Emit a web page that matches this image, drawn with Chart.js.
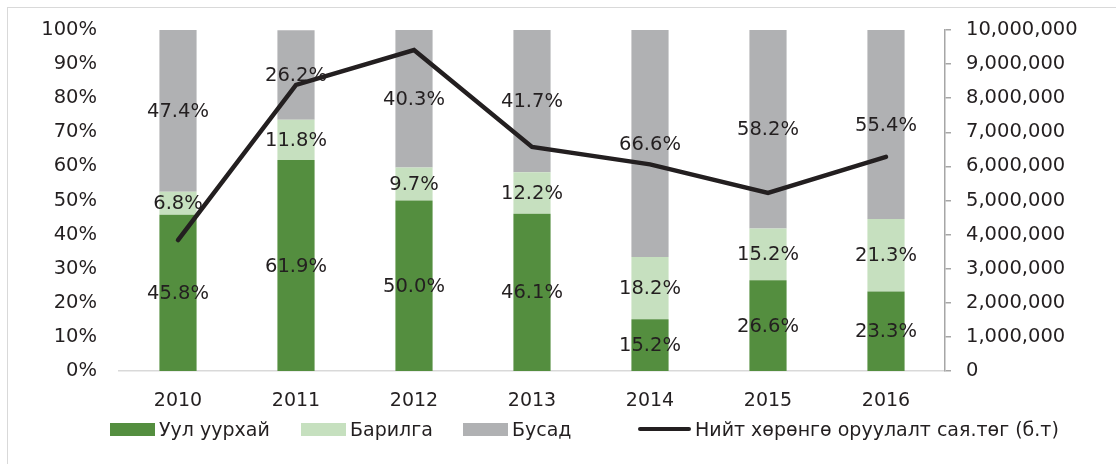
<!DOCTYPE html>
<html>
<head>
<meta charset="utf-8">
<script src="https://cdn.jsdelivr.net/npm/chart.js@4.4.1/dist/chart.umd.min.js"></script>
<style>
  html, body { margin: 0; padding: 0; background: #fff; overflow: hidden; }
  #wrap { position: relative; width: 1116px; height: 464px; }
  #frame { position: absolute; left: 7px; top: 7px; width: 1130px; height: 480px;
           border: 1px solid #d9d9d9; box-sizing: border-box; }
  #chart { position: absolute; left: 0; top: 0; }
  #legend { position: absolute; left: 0; top: 417px; width: 1116px; height: 24px;
            font: 19px "DejaVu Sans", Verdana, sans-serif; color: #231f20; white-space: nowrap; }
  .item { position: absolute; top: 0; height: 24px; display: flex; align-items: center; }
  .sw { width: 45px; height: 13px; margin-right: 4px; }
  .ln { width: 53px; height: 4px; border-radius: 2px; margin-right: 4px; }
</style>
</head>
<body>
<div id="wrap">
  <div id="frame"></div>
  <canvas id="chart" width="1116" height="464"></canvas>
  <div id="legend"></div>
</div>
<script>
// Он
const years = ["2010", "2011", "2012", "2013", "2014", "2015", "2016"];

// Салбарын эзлэх хувь (%)
const mining = [45.8, 61.9, 50.0, 46.1, 15.2, 26.6, 23.3];
const construction = [6.8, 11.8, 9.7, 12.2, 18.2, 15.2, 21.3];
const other = [47.4, 26.2, 40.3, 41.7, 66.6, 58.2, 55.4];

// Нийт хөрөнгө оруулалт, сая төг
const totalInvestment = [3840000, 8390000, 9410000, 6570000, 6060000, 5220000, 6280000];

const seriesNames = ["Уул уурхай", "Барилга", "Бусад", "Нийт хөрөнгө оруулалт сая.төг (б.т)"];
const barColors = ["#548e3f", "#c6e0bf", "#b0b1b3"];
const lineColor = "#231f20";
const textColor = "#231f20";
const FONT = '"DejaVu Sans", Verdana, sans-serif';

// тайлбарын мөр бүрийн эхлэл (px)
const legendX = [110, 301, 463, 638];

// хувийг баганын дунд бичих
const segmentLabels = {
  id: "segmentLabels",
  afterDatasetDraw(chart, args) {
    const ds = chart.data.datasets[args.index];
    if (ds.type !== "bar") return;
    const ctx = chart.ctx;
    ctx.save();
    ctx.font = "19.5px " + FONT;
    ctx.fillStyle = textColor;
    ctx.textAlign = "center";
    ctx.textBaseline = "middle";
    args.meta.data.forEach((el, i) => {
      const v = ds.data[i];
      ctx.fillText(v.toFixed(1) + "%", el.x, (el.y + el.base) / 2 + 1);
    });
    ctx.restore();
  }
};

// босоо тэнхлэгийн хэмжээг тогтмол болгох
function fixWidth(w) {
  return s => { s.width = w; s.paddingTop = 0; s.paddingBottom = 0; };
}

const ctx = document.getElementById("chart").getContext("2d");
const chart = new Chart(ctx, {
  data: {
    labels: years,
    datasets: [
      { type: "bar", label: seriesNames[0], data: mining, backgroundColor: barColors[0], yAxisID: "y", order: 2 },
      { type: "bar", label: seriesNames[1], data: construction, backgroundColor: barColors[1], yAxisID: "y", order: 2 },
      { type: "bar", label: seriesNames[2], data: other, backgroundColor: barColors[2], yAxisID: "y", order: 2 },
      {
        type: "line", label: seriesNames[3], data: totalInvestment, yAxisID: "y1", order: 0,
        borderColor: lineColor, borderWidth: 4.5, pointRadius: 0, tension: 0,
        borderCapStyle: "round", borderJoinStyle: "miter", fill: false
      }
    ]
  },
  options: {
    responsive: false,
    devicePixelRatio: 1,
    animation: false,
    layout: { padding: { top: 30, left: 0, right: 0, bottom: 0 } },
    datasets: { bar: { categoryPercentage: 1, barPercentage: 0.315 } },
    plugins: { legend: { display: false }, tooltip: { enabled: false } },
    scales: {
      x: {
        stacked: true,
        grid: { display: false, drawTicks: false },
        border: { display: true, color: "#d9d9d9", width: 1.5 },
        ticks: { color: textColor, font: { family: FONT, size: 19 }, padding: 19, maxRotation: 0 },
        afterFit(s) { s.height = 93; s.paddingLeft = 0; s.paddingRight = 0; }
      },
      y: {
        stacked: true,
        position: "left",
        min: 0, max: 100,
        grid: { display: false, drawTicks: false },
        border: { display: false },
        ticks: { stepSize: 10, color: textColor, font: { family: FONT, size: 19.5 }, padding: 22,
                 callback: v => v + "%" },
        afterFit: fixWidth(119)
      },
      y1: {
        position: "right",
        min: 0, max: 10000000,
        grid: { drawOnChartArea: false, drawTicks: true, tickLength: 6, color: "#a6a6a6", lineWidth: 1.5 },
        border: { display: true, color: "#a6a6a6", width: 1.5 },
        ticks: { stepSize: 1000000, color: textColor, font: { family: FONT, size: 19.5 }, padding: 15,
                 callback: v => v.toLocaleString("en-US") },
        afterFit: fixWidth(1116 - 945)
      }
    }
  },
  plugins: [segmentLabels]
});

// тайлбар
const legend = document.getElementById("legend");
chart.data.datasets.forEach((ds, i) => {
  const item = document.createElement("div");
  item.className = "item";
  item.style.left = legendX[i] + "px";
  const mark = document.createElement("span");
  if (ds.type === "bar") {
    mark.className = "sw";
    mark.style.background = ds.backgroundColor;
  } else {
    mark.className = "ln";
    mark.style.background = ds.borderColor;
  }
  const txt = document.createElement("span");
  txt.textContent = ds.label;
  item.appendChild(mark);
  item.appendChild(txt);
  legend.appendChild(item);
});
</script>
</body>
</html>
